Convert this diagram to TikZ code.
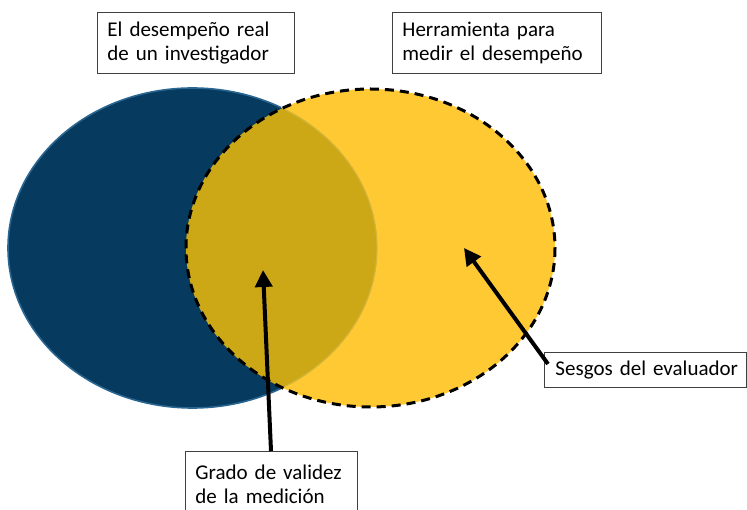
\documentclass[tikz,border=0pt]{standalone}
\usepackage{fontspec}
\setmainfont{Carlito}
\usetikzlibrary{arrows.meta}
\definecolor{darkblue}{HTML}{063A5E}
\definecolor{blueedge}{HTML}{2A6692}
\definecolor{gold}{HTML}{FFC933}
\definecolor{overlap}{HTML}{CCA817}
\begin{document}
\begin{tikzpicture}[x=1pt,y=-1pt,
  label box/.style={draw=black!75,line width=0.9pt,fill=white,inner xsep=10pt,inner ysep=0pt,
    font=\fontsize{21}{24.5}\selectfont,align=left,anchor=north west},
  pointer/.style={line width=4pt,-{Triangle[length=17pt,width=17pt]}}]
\useasboundingbox (0,0) rectangle (747,510);
% ellipses
\fill[gold] (370.5,248) ellipse [x radius=184.5,y radius=159];
\fill[darkblue] (192.5,248) ellipse [x radius=184.5,y radius=160];
\begin{scope}
  \clip (370.5,248) ellipse [x radius=184.5,y radius=159];
  \fill[overlap] (192.5,248) ellipse [x radius=184.5,y radius=160];
\end{scope}
\begin{scope}
  \clip (370.5,248) ellipse [x radius=186,y radius=160.5] (-10,-10) rectangle (760,520);
  \draw[blueedge,line width=1.6pt] (192.5,248) ellipse [x radius=184.5,y radius=160];
\end{scope}
\begin{scope}
  \clip (370.5,248) ellipse [x radius=184.5,y radius=159];
  \draw[overlap!85!white,line width=1.2pt] (192.5,248) ellipse [x radius=184.5,y radius=160];
\end{scope}
\draw[black,line width=3pt,dash pattern=on 9pt off 6pt] (370.5,248) ellipse [x radius=184.5,y radius=159];
% label boxes
\node[label box,minimum width=197pt,minimum height=61pt,text width=177pt] (real) at (97,12)
  {El desempeño real\\de un investigador};
\node[label box,minimum width=209pt,minimum height=61pt,text width=189pt] (tool) at (392,12)
  {Herramienta para\\medir el desempeño};
\node[label box,inner xsep=11pt,minimum width=202pt,minimum height=35pt,text width=180pt] (bias) at (544,352)
  {\mbox{Sesgos del evaluador}};
\node[label box,minimum width=172pt,minimum height=66pt,text width=152pt] (valid) at (185,451)
  {Grado de validez\\de la medición};
% arrow ends
\coordinate (validtip) at (263,270);
\coordinate (biastip) at (464,248);
\coordinate (validstart) at (271,451);
\coordinate (biasstart) at (548,364);
\draw[pointer] (validstart) -- (validtip);
\draw[pointer] (biasstart) -- (biastip);
\end{tikzpicture}
\end{document}
